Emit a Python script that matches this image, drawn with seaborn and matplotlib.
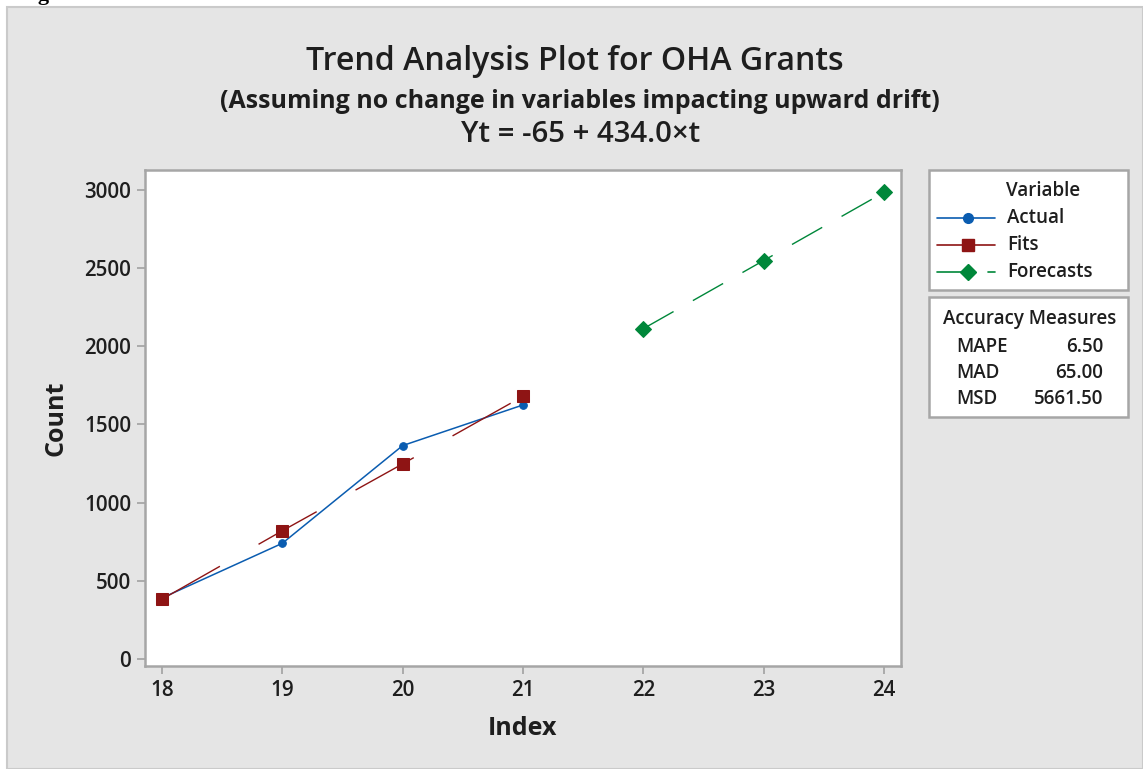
import matplotlib
matplotlib.use("Agg")
import matplotlib.pyplot as plt
import seaborn as sns
import numpy as np
import pandas as pd
from matplotlib.patches import Rectangle
from matplotlib.lines import Line2D

# ---- data ----
actual_index = [18, 19, 20, 21]
actual_values = [390, 740, 1365, 1625]
fits_index = [18, 19, 20, 21]
fits_values = [382, 820, 1248, 1680]
forecast_index = [22, 23, 24]
forecast_values = [2113, 2549, 2985]
x_ticks = [18, 19, 20, 21, 22, 23, 24]
y_ticks = [0, 500, 1000, 1500, 2000, 2500, 3000]
legend_labels = ["Actual", "Fits", "Forecasts"]
accuracy_names = ["MAPE", "MAD", "MSD"]
accuracy_values = ["6.50", "65.00", "5661.50"]

title = "Trend Analysis Plot for OHA Grants"
subtitle = "(Assuming no change in variables impacting upward drift)"
equation = "Yt = -65 + 434.0\u00d7t"

C_BLUE = "#0a5cb0"
C_RED = "#8e1414"
C_GREEN = "#00873a"
C_SPINE = "#a6a6a6"
C_TEXT = "#1e1e1e"
C_BG = "#e5e5e5"

sns.set_style("white")
plt.rcParams["font.family"] = ["Open Sans", "DejaVu Sans"]
plt.rcParams["lines.scale_dashes"] = False

W, H = 1143, 769
fig = plt.figure(figsize=(W / 100, H / 100), dpi=100)
fig.patch.set_facecolor("white")

# grey panel
fig.patches.append(Rectangle((7 / W, 0), 1 - 7 / W, 1 - 7 / H, transform=fig.transFigure,
                             facecolor=C_BG, edgecolor="#cacaca", linewidth=1.5, zorder=-10))
fig.text(18 / W, 1.0, "Figure 1:", fontsize=16, fontweight="bold",
         family=["Liberation Serif"], va="baseline", ha="left", color="black")

def px(x0, y0, x1, y1):
    return [x0 / W, 1 - y1 / H, (x1 - x0) / W, (y1 - y0) / H]

ax = fig.add_axes(px(145, 170, 901, 666))
ax.set_facecolor("white")

df_a = pd.DataFrame({"Index": actual_index, "Count": actual_values})
df_f = pd.DataFrame({"Index": fits_index, "Count": fits_values})
df_c = pd.DataFrame({"Index": forecast_index, "Count": forecast_values})

sns.lineplot(data=df_a, x="Index", y="Count", ax=ax, color=C_BLUE, linewidth=1.1,
             marker="o", markersize=5.5, markeredgecolor=C_BLUE, zorder=3)
sns.lineplot(data=df_f, x="Index", y="Count", ax=ax, color=C_RED, linewidth=1.0,
             marker="s", markersize=8, markeredgecolor=C_RED, zorder=4)
sns.lineplot(data=df_c, x="Index", y="Count", ax=ax, color=C_GREEN, linewidth=1.0,
             marker="D", markersize=8, markeredgecolor=C_GREEN, zorder=4)
lines = ax.get_lines()
lines[1].set_linestyle((0, (48, 32)))
lines[2].set_linestyle((0, (25, 16)))

ax.set_xlim(17.859, 24.141)
ax.set_ylim(-45, 3128)
ax.set_xticks(x_ticks)
ax.set_yticks(y_ticks)
ax.tick_params(axis="both", which="major", direction="out", length=6, width=1.3,
               color=C_SPINE, labelsize=14.8, labelcolor=C_TEXT, pad=4, bottom=True, left=True)
for lbl in ax.get_xticklabels() + ax.get_yticklabels():
    lbl.set_fontweight("semibold")
for s in ax.spines.values():
    s.set_color(C_SPINE)
    s.set_linewidth(1.8)
ax.set_xlabel("Index", fontsize=18, fontweight="bold", color=C_TEXT, labelpad=11)
ax.set_ylabel("Count", fontsize=18, fontweight="bold", color=C_TEXT, labelpad=11)

# titles
fig.text(575 / W, 1 - 61 / H, title, fontsize=23.1, fontweight="semibold", ha="center", va="center", color=C_TEXT)
fig.text(580 / W, 1 - 101 / H, subtitle, fontsize=18, fontweight="bold", ha="center", va="center", color=C_TEXT)
fig.text(580.5 / W, 1 - 134 / H, equation, fontsize=21.2, fontweight="semibold", ha="center", va="center", color=C_TEXT)

# legend panel (pixel coordinates overlay)
lax = fig.add_axes([0, 0, 1, 1], facecolor="none")
lax.set_xlim(0, W)
lax.set_ylim(H, 0)
lax.axis("off")
for (y0, y1) in [(170, 290), (297, 417)]:
    lax.add_patch(Rectangle((929, y0), 1128 - 929, y1 - y0, facecolor="white",
                            edgecolor=C_SPINE, linewidth=1.8))
FS = 13.5
lax.text(1043, 191, "Variable", fontsize=FS, fontweight="semibold", ha="center", va="center", color=C_TEXT)
ys = [218, 245, 272]
cols = [C_BLUE, C_RED, C_GREEN]
mks = [("o", 7), ("s", 8.5), ("D", 8)]
for lab, y, c, (m, ms) in zip(legend_labels, ys, cols, mks):
    if lab == "Forecasts":
        lax.add_line(Line2D([937, 962], [y, y], color=c, linewidth=1.2))
        lax.add_line(Line2D([988, 995], [y, y], color=c, linewidth=1.2))
    else:
        lax.add_line(Line2D([937, 995], [y, y], color=c, linewidth=1.2))
    lax.add_line(Line2D([968], [y], marker=m, markersize=ms, color=c, markeredgecolor=c))
    lax.text(1007, y, lab, fontsize=FS, fontweight="semibold", ha="left", va="center", color=C_TEXT)

lax.text(1030, 319, "Accuracy Measures", fontsize=FS, fontweight="semibold", ha="center", va="center", color=C_TEXT)
for i, (n, v) in enumerate(zip(accuracy_names, accuracy_values)):
    y = 347 + 26 * i
    lax.text(956, y, n, fontsize=FS, fontweight="semibold", ha="left", va="center", color=C_TEXT)
    lax.text(1103, y, v, fontsize=FS, fontweight="semibold", ha="right", va="center", color=C_TEXT)

fig.savefig("out.png", dpi=100)
